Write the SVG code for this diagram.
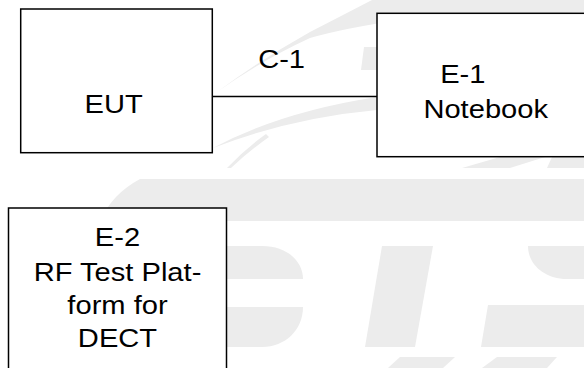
<svg xmlns="http://www.w3.org/2000/svg" width="584" height="368" viewBox="0 0 584 368">
  <style>
    .wm { fill: #ececec; stroke: none; }
    .box { fill: #ffffff; stroke: #000000; stroke-width: 1.5; }
    .conn { stroke: #000000; stroke-width: 1.5; fill: none; }
    .lbl { font-family: "Liberation Sans", Arial, sans-serif; font-size: 26px; fill: #000000; text-anchor: middle; }
  </style>
  <rect x="0" y="0" width="584" height="368" fill="#ffffff"/>
  <g id="watermark">
    <path class="wm" d="M217,92 Q260,60 310,32 Q345,14 372,0 L584,0 L584,12 L400,20 Q345,28 310,38 Q262,60 217,92 Z"/>
    <path class="wm" d="M213,148 Q280,112 377,97 L377,110 Q290,118 213,148 Z"/>
    <path class="wm" d="M227,168 Q246,148 266,134 L269,137 Q249,151 231,168 Z"/>
    <polygon class="wm" points="364,47 377,47 377,70 361,70"/>
    <polygon class="wm" points="500,157 545,157 510,168 462,168"/>
    <polygon class="wm" points="552,157 584,157 584,168 547,168"/>
    <path class="wm" d="M140,179 L584,179 L584,221 L100,221 Q112,194 140,179 Z"/>
    <path class="wm" d="M227,246 L262,246 C288,246 303,262 303,279 L227,279 Z"/>
    <path class="wm" d="M227,307 L303,307 C303,330 285,347 262,347 L227,347 Z"/>
    <polygon class="wm" points="382,246 433,246 415,347 365,347"/>
    <path class="wm" d="M528,246 L584,246 L584,279 L567,279 C545,279 528,265 528,246 Z"/>
    <polygon class="wm" points="488,305 584,305 584,347 481,347"/>
    <polygon class="wm" points="400,357 455,357 443,368 388,368"/>
    <polygon class="wm" points="497,357 557,357 547,368 482,368"/>
  </g>
  <g id="connectors">
    <line class="conn" x1="212" y1="96.5" x2="377" y2="96.5"/>
    <text class="lbl" transform="translate(281.6,68) scale(1.12,1)">C-1</text>
  </g>
  <g id="node-eut">
    <rect class="box" x="20.7" y="9" width="191.6" height="143.7"/>
    <text class="lbl" transform="translate(113.6,113.3) scale(1.12,1)">EUT</text>
  </g>
  <g id="node-e1">
    <rect class="box" x="377" y="13.3" width="220" height="143.4"/>
    <text class="lbl" transform="translate(462.8,83.3) scale(1.12,1)">E-1</text>
    <text class="lbl" transform="translate(485.7,118.3) scale(1.12,1)">Notebook</text>
  </g>
  <g id="node-e2">
    <rect class="box" x="8.5" y="208" width="218" height="170"/>
    <text class="lbl" transform="translate(117.5,245.7) scale(1.12,1)">E-2</text>
    <text class="lbl" transform="translate(117.5,280.5) scale(1.12,1)">RF Test Plat-</text>
    <text class="lbl" transform="translate(117.5,313.8) scale(1.12,1)">form for</text>
    <text class="lbl" transform="translate(117.5,347) scale(1.12,1)">DECT</text>
  </g>
</svg>
